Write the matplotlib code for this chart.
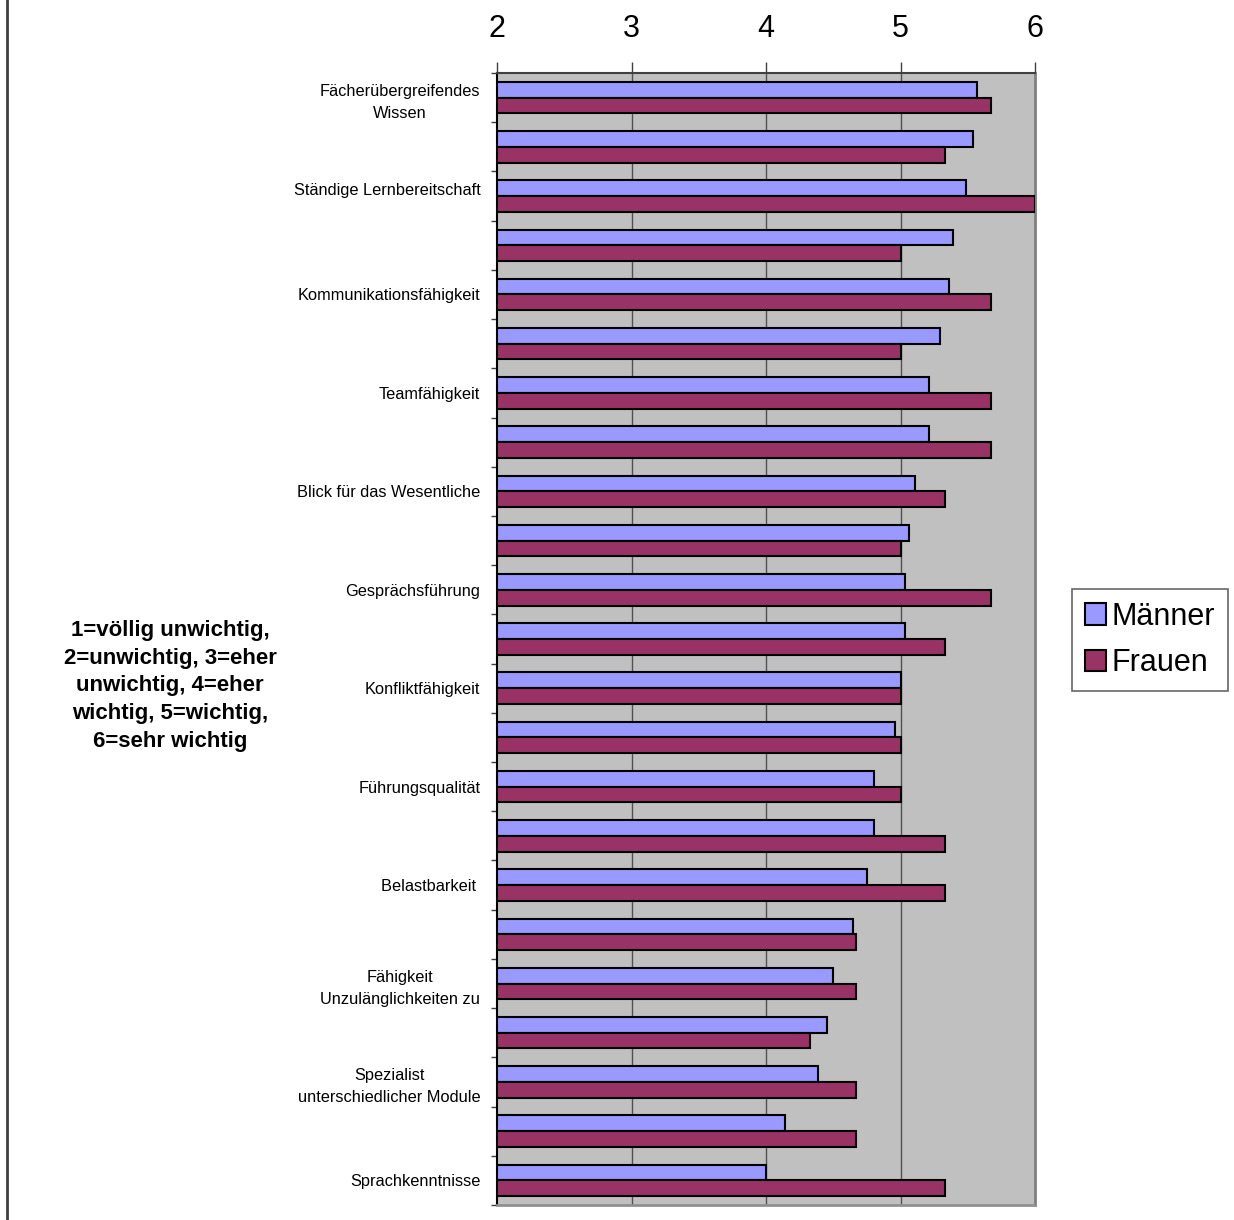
import numpy as np
import matplotlib.pyplot as plt
from matplotlib.lines import Line2D

plt.rcParams['font.family'] = ['Liberation Sans', 'DejaVu Sans']

labels = ['Fächerübergreifendes\nWissen', '', 'Ständige Lernbereitschaft\n ', '',
          'Kommunikationsfähigkeit', '', 'Teamfähigkeit', '',
          'Blick für das Wesentliche', '', 'Gesprächsführung', '',
          'Konfliktfähigkeit', '', 'Führungsqualität', '',
          'Belastbarkeit ', '', 'Fähigkeit\nUnzulänglichkeiten zu', '',
          'Spezialist\nunterschiedlicher Module', '', 'Sprachkenntnisse']
maenner = [5.57, 5.54, 5.49, 5.39, 5.36, 5.29, 5.21, 5.21, 5.11, 5.06, 5.03, 5.03,
           5.00, 4.96, 4.80, 4.80, 4.75, 4.65, 4.50, 4.45, 4.39, 4.14, 4.00]
frauen = [5.67, 5.33, 6.00, 5.00, 5.67, 5.00, 5.67, 5.67, 5.33, 5.00, 5.67, 5.33,
          5.00, 5.00, 5.00, 5.33, 5.33, 4.67, 4.67, 4.33, 4.67, 4.67, 5.33]
xticks = [2, 3, 4, 5, 6]

fig = plt.figure(figsize=(12.34, 12.2), dpi=100)
ax = fig.add_axes([497/1234, 1 - 1205/1220, 538/1234, 1132/1220])
ax.set_facecolor('#C0C0C0')

y = np.arange(len(labels))
h = 0.32
ax.barh(y - 0.16, np.array(maenner) - 2, left=2, height=h, color='#9999FF',
        edgecolor='black', linewidth=1.5, label='Männer', zorder=3)
ax.barh(y + 0.16, np.array(frauen) - 2, left=2, height=h, color='#993366',
        edgecolor='black', linewidth=1.5, label='Frauen', zorder=3)

ax.set_xlim(2, 6)
ax.set_ylim(len(labels) - 0.5, -0.5)
ax.xaxis.tick_top()
ax.set_xticks(xticks)
ax.set_xticklabels([str(v) for v in xticks], fontsize=22)
ax.tick_params(axis='x', length=8, width=1, color='#404040', pad=13)
for v in xticks[1:-1]:
    ax.axvline(v, color='#505050', linewidth=1, zorder=1)

ax.set_yticks(y)
ax.set_yticklabels(labels, fontsize=11.8, ha='right', multialignment='center',
                   linespacing=1.55)
ax.tick_params(axis='y', which='major', length=0, pad=12)
ax.set_yticks(np.arange(len(labels) + 1) - 0.5, minor=True)
ax.tick_params(axis='y', which='minor', length=4, width=1, color='#404040')

ax.spines['left'].set_color('black')
ax.spines['left'].set_linewidth(1.5)
ax.spines['top'].set_color('#404040')
ax.spines['top'].set_linewidth(1.5)
ax.spines['right'].set_color('#808080')
ax.spines['right'].set_linewidth(2)
ax.spines['bottom'].set_color('#909090')
ax.spines['bottom'].set_linewidth(2)

fig.text(170/1234, 1 - 686/1220,
         '1=völlig unwichtig,\n2=unwichtig, 3=eher\nunwichtig, 4=eher\nwichtig, 5=wichtig,\n6=sehr wichtig',
         ha='center', va='center', fontsize=16, fontweight='bold', linespacing=1.43)

leg = fig.legend(loc='center', bbox_to_anchor=(1150/1234, 1 - 640/1220), fontsize=22,
                 frameon=True, fancybox=False, handlelength=0.7, handleheight=0.7,
                 handletextpad=0.2, borderpad=0.4, labelspacing=0.55, borderaxespad=0)
leg.get_frame().set_edgecolor('#404040')
leg.get_frame().set_linewidth(1.2)
for p in leg.get_patches():
    p.set_linewidth(1.5)

fig.add_artist(Line2D([7/1234, 7/1234], [0, 1], color='#404040', linewidth=2,
                      transform=fig.transFigure))

fig.savefig('out.png', dpi=100)
